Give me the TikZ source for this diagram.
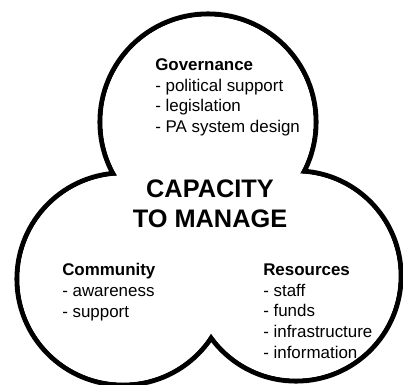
\documentclass[tikz,border=0pt]{standalone}
\usepackage{fontspec}
\setmainfont{Liberation Sans}
\begin{document}
\begin{tikzpicture}[x=0.75pt,y=-0.75pt,
  lobe/.style={draw=black,line width=3.8pt,fill=white},
  lobefill/.style={fill=white},
  body/.style={inner sep=0pt,anchor=base west,align=left,font=\fontsize{12.7}{15.4}\selectfont},
  title/.style={inner sep=0pt,anchor=base,align=center,font=\fontsize{19}{22.5}\selectfont\bfseries}]
\useasboundingbox (0,0) rectangle (403,385);
\begin{scope}
\clip (0,0) rectangle (403,385);
\draw[lobe] (208,122) circle[radius=108];
\draw[lobe] (123,279) circle[radius=106];
\draw[lobe] (296,276) circle[radius=105];
\fill[lobefill] (208,122) circle[radius=105.5];
\fill[lobefill] (123,279) circle[radius=103.5];
\fill[lobefill] (296,276) circle[radius=102.5];
\end{scope}
\node[title] (cap) at (210,227) {CAPACITY\\TO MANAGE};
\node[body] (gov) at (155,132.5) {\textbf{Governance}\\- political support\\- legislation\\- PA system design};
\node[body] (com) at (62,317) {\textbf{Community}\\- awareness\\- support};
\node[body] (res) at (263,358) {\textbf{Resources}\\- staff\\- funds\\- infrastructure\\- information};
\end{tikzpicture}
\end{document}
